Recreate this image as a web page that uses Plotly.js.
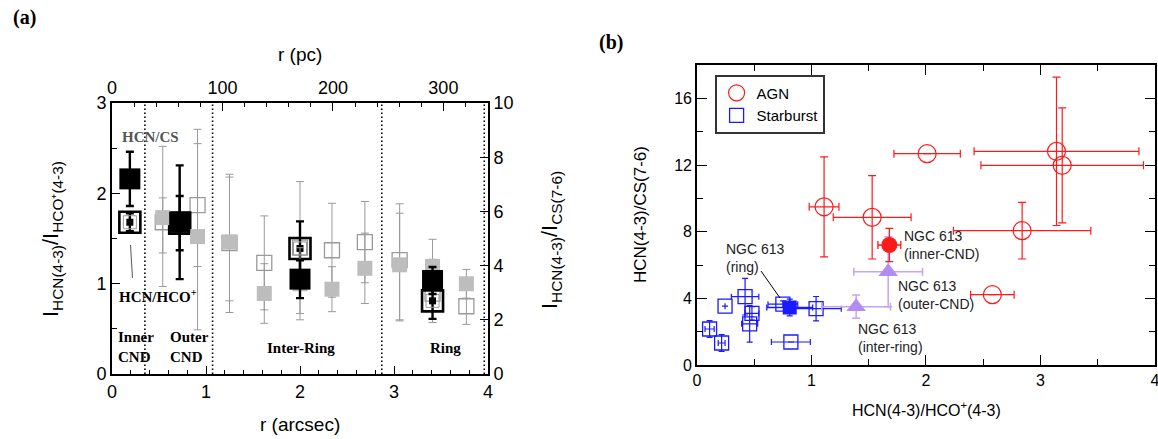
<!DOCTYPE html>
<html>
<head>
<meta charset="utf-8">
<script src="https://cdn.plot.ly/plotly-3.0.1.min.js"></script>
<style>
  html, body { margin: 0; padding: 0; background: #fff; }
  #chart { width: 1158px; height: 439px; }
</style>
</head>
<body>
<div id="chart"></div>
<script>
// ---- NGC 613 radial line ratios (panel a) ----
// Regions: inner CND, outer CND, inter-ring, ring
const regionNames = ['inner-CND', 'outer-CND', 'inter-ring', 'ring'];
const regionR = [0.19, 0.72, 2.00, 3.41];          // arcsec
const regionHCO = [1.68, 1.67, 1.39, 0.81];        // HCN(4-3)/HCO+(4-3)
const regionHCOerr = [0.10, 0.30, 0.30, 0.20];
const regionCS = [7.20, 5.60, 3.50, 3.45];         // HCN(4-3)/CS(7-6)
const regionCSerr = [1.00, 2.10, 0.70, 0.50];

// Finer radial bins
const binR = [0.54, 0.91, 1.25, 1.62, 2.00, 2.34, 2.69, 3.06, 3.41, 3.77];
const binHCO = [1.68, 1.87, 1.45, 1.23, 1.40, 1.37, 1.46, 1.26, 0.89, 0.75];
const binHCOplus = [0.27, 0.68, 0.73, 0.52, 0.73, 0.52, 0.45, 0.52, 0.38, 0.20];
const binHCOminus = [0.34, 0.68, 0.64, 0.52, 0.73, 0.52, 0.45, 0.66, 0.32, 0.20];
const binCS = [5.77, 5.07, 4.87, 2.97, 3.33, 3.13, 3.90, 4.03, 3.97, 3.33];
const binCSplus = [2.63, 3.96, 2.50, 1.10, 1.33, 0.83, 1.30, 2.25, 1.00, 0.53];
const binCSminus = [2.54, 3.44, 2.60, 1.10, 1.33, 0.83, 1.30, 2.07, 1.00, 0.53];

// Region boundaries (arcsec) and pc per arcsec
const boundaries = [0.35, 1.07, 2.87, 3.96];
const pcPerArcsec = 85.1;
const rMax = 4;

// ---- Galaxy sample (panel b) ----
const agnX = [1.11, 1.53, 2.01, 3.14, 3.19, 2.84, 2.58];
const agnXerr = [0.13, 0.34, 0.29, 0.72, 0.71, 0.60, 0.19];
const agnY = [9.49, 8.86, 12.68, 12.82, 11.98, 8.06, 4.22];
const agnYerr = [3.00, 2.50, 0.00, 4.45, 3.45, 1.70, 0.00];

const sbX = [0.42, 0.245, 0.48, 0.46, 0.11, 0.215, 0.75, 1.04, 0.82];
const sbXerr = [0.12, 0.00, 0.06, 0.07, 0.04, 0.03, 0.13, 0.22, 0.17];
const sbY = [4.10, 3.53, 3.10, 2.47, 2.16, 1.32, 3.65, 3.38, 1.38];
const sbYerr = [1.10, 0.00, 0.40, 1.10, 0.50, 0.50, 0.20, 0.73, 0.00];

// ---- page geometry helpers (pixel -> paper) ----
const W = 1158, H = 439;
const px = x => x / W;
const py = y => 1 - y / H;

const sans = 'Liberation Sans, Arial, sans-serif';
const serif = 'Liberation Serif, Times New Roman, serif';
const RED = '#ff1a1a', BLUE = '#1a1aff', LAV = '#b28cf2', LAVBAR = '#c3a5f4';
const GRAYFILL = '#bdbdbd', GRAYLINE = '#9a9a9a';

const pick = (arr, idx) => idx.map(i => arr[i]);

const traces = [
  // gray open squares: HCN/HCO+ per radial bin (left axis)
  {
    x: binR, y: binHCO, xaxis: 'x', yaxis: 'y', type: 'scatter', mode: 'markers',
    showlegend: false, hoverinfo: 'skip',
    marker: { symbol: 'square-open', size: 15, color: GRAYLINE, line: { width: 1.3, color: GRAYLINE } },
    error_y: { type: 'data', symmetric: false, array: binHCOplus, arrayminus: binHCOminus,
               color: GRAYLINE, thickness: 1, width: 4 }
  },
  // black open squares: HCN/HCO+ per region (left axis)
  {
    x: regionR, y: regionHCO, xaxis: 'x', yaxis: 'y', type: 'scatter', mode: 'markers',
    showlegend: false, hoverinfo: 'skip',
    marker: { symbol: 'square-open', size: 21, color: '#000', line: { width: 2.6, color: '#000' } },
    error_y: { type: 'data', array: regionHCOerr, color: '#000', thickness: 2.4, width: 4 }
  },
  {
    x: regionR, y: regionHCO, xaxis: 'x', yaxis: 'y', type: 'scatter', mode: 'markers',
    showlegend: false, hoverinfo: 'skip',
    marker: { symbol: 'square-open', size: 13, color: GRAYLINE, line: { width: 1, color: GRAYLINE } }
  },
  {
    x: regionR, y: regionHCO, xaxis: 'x', yaxis: 'y', type: 'scatter', mode: 'markers',
    showlegend: false, hoverinfo: 'skip',
    marker: { symbol: 'square', size: 7, color: '#000' }
  },
  // empty trace so the parsec axis along the top is laid out
  { x: [], y: [], xaxis: 'x2', yaxis: 'y', type: 'scatter', mode: 'markers',
    showlegend: false, hoverinfo: 'skip' },
  // gray filled squares: HCN/CS per radial bin (right axis)
  {
    x: binR, y: binCS, xaxis: 'x', yaxis: 'y2', type: 'scatter', mode: 'markers',
    showlegend: false, hoverinfo: 'skip',
    marker: { symbol: 'square', size: 15, color: GRAYFILL },
    error_y: { type: 'data', symmetric: false, array: binCSplus, arrayminus: binCSminus,
               color: GRAYLINE, thickness: 1, width: 4 }
  },
  // black filled squares: HCN/CS per region (right axis)
  {
    x: regionR, y: regionCS, xaxis: 'x', yaxis: 'y2', type: 'scatter', mode: 'markers',
    showlegend: false, hoverinfo: 'skip',
    marker: { symbol: 'square', size: 21, color: '#000' },
    error_y: { type: 'data', array: regionCSerr, color: '#000', thickness: 2.4, width: 4 }
  },

  // ---- panel b ----
  {
    name: 'AGN', x: agnX, y: agnY, xaxis: 'x3', yaxis: 'y3', type: 'scatter', mode: 'markers',
    marker: { symbol: 'circle-open', size: 18, color: RED, line: { width: 1.2, color: RED } },
    error_x: { type: 'data', array: agnXerr, color: RED, thickness: 1.2, width: 4 },
    error_y: { type: 'data', array: agnYerr, color: RED, thickness: 1.2, width: 4 }
  },
  {
    name: 'Starburst', x: sbX, y: sbY, xaxis: 'x3', yaxis: 'y3', type: 'scatter', mode: 'markers',
    marker: { symbol: 'square-open', size: 14, color: BLUE, line: { width: 1.3, color: BLUE } },
    error_x: { type: 'data', array: sbXerr, color: BLUE, thickness: 1.2, width: 3 },
    error_y: { type: 'data', array: sbYerr, color: BLUE, thickness: 1.2, width: 3 }
  },
  // NGC 613 outer-CND and inter-ring
  {
    name: 'NGC 613 outer', x: pick(regionHCO, [1, 2]), y: pick(regionCS, [1, 2]),
    xaxis: 'x3', yaxis: 'y3', type: 'scatter', mode: 'markers', showlegend: false,
    marker: { symbol: 'triangle-up', size: 17, color: LAV },
    error_x: { type: 'data', array: pick(regionHCOerr, [1, 2]), color: LAVBAR, thickness: 1.5, width: 4 },
    error_y: { type: 'data', array: pick(regionCSerr, [1, 2]), color: LAVBAR, thickness: 1.5, width: 4 }
  },
  // NGC 613 ring
  {
    name: 'NGC 613 ring', x: pick(regionHCO, [3]), y: pick(regionCS, [3]),
    xaxis: 'x3', yaxis: 'y3', type: 'scatter', mode: 'markers', showlegend: false,
    marker: { symbol: 'square', size: 14, color: BLUE },
    error_x: { type: 'data', array: pick(regionHCOerr, [3]), color: BLUE, thickness: 1.3, width: 3 },
    error_y: { type: 'data', array: pick(regionCSerr, [3]), color: BLUE, thickness: 1.3, width: 3 }
  },
  // NGC 613 inner-CND
  {
    name: 'NGC 613 inner', x: pick(regionHCO, [0]), y: pick(regionCS, [0]),
    xaxis: 'x3', yaxis: 'y3', type: 'scatter', mode: 'markers', showlegend: false,
    marker: { symbol: 'circle', size: 16, color: RED },
    error_x: { type: 'data', array: pick(regionHCOerr, [0]), color: RED, thickness: 1.3, width: 4 },
    error_y: { type: 'data', array: pick(regionCSerr, [0]), color: RED, thickness: 1.3, width: 4 }
  }
];

const frameAxis = {
  showline: true, linecolor: '#000', linewidth: 2, ticks: 'inside', tickcolor: '#000',
  showgrid: false, zeroline: false, fixedrange: true, ticklabeloverflow: 'allow'
};

const shapes = boundaries.map(b => ({
  type: 'line', xref: 'x', yref: 'y', x0: b, x1: b, y0: 0, y1: 3,
  line: { color: '#000', width: 1.6, dash: '1.5px,2.5px' }, layer: 'below'
}));
// pointer lines
shapes.push({ type: 'line', xref: 'paper', yref: 'paper',
  x0: px(130.5), y0: py(245), x1: px(132.5), y1: py(278), line: { color: '#555', width: 1 } });
shapes.push({ type: 'line', xref: 'paper', yref: 'paper',
  x0: px(761), y0: py(271), x1: px(780), y1: py(298), line: { color: '#000', width: 1 } });

const ann = (x, y, text, opts) => Object.assign({
  xref: 'paper', yref: 'paper', x: px(x), y: py(y), text, showarrow: false,
  xanchor: 'center', yanchor: 'middle'
}, opts || {});

const annotations = [
  ann(24, 18, '<b>(a)</b>', { font: { family: serif, size: 20, color: '#000' } }),
  ann(611, 42, '<b>(b)</b>', { font: { family: serif, size: 20, color: '#000' } }),
  // panel a axis titles
  ann(300, 55, 'r (pc)', { font: { family: sans, size: 19, color: '#000' } }),
  ann(300, 424, 'r (arcsec)', { font: { family: sans, size: 19, color: '#000' } }),
  ann(52, 239, 'I<sub>HCN(4-3)</sub>/I<sub>HCO⁺(4-3)</sub>',
      { textangle: -90, font: { family: sans, size: 22, color: '#000' } }),
  ann(551, 240, 'I<sub>HCN(4-3)</sub>/I<sub>CS(7-6)</sub>',
      { textangle: -90, font: { family: sans, size: 22, color: '#000' } }),
  // panel a labels
  ann(150, 137, '<b>HCN/CS</b>', { font: { family: serif, size: 15, color: '#555' } }),
  ann(117, 296, '<b>HCN/HCO<sup>+</sup></b>', { xanchor: 'left', font: { family: serif, size: 15, color: '#000' } }),
  ann(116, 347, '<b>Inner<br>CND</b>', { xanchor: 'left', align: 'left', font: { family: serif, size: 15, color: '#000' } }),
  ann(168, 347, '<b>Outer<br>CND</b>', { xanchor: 'left', align: 'left', font: { family: serif, size: 15, color: '#000' } }),
  ann(301, 348, '<b>Inter-Ring</b>', { font: { family: serif, size: 15, color: '#000' } }),
  ann(445, 348, '<b>Ring</b>', { font: { family: serif, size: 15, color: '#000' } }),
  // panel b axis titles
  ann(926, 409, 'HCN(4-3)/HCO<sup>+</sup>(4-3)', { font: { family: sans, size: 16, color: '#000' } }),
  ann(640, 215, 'HCN(4-3)/CS(7-6)', { textangle: -90, font: { family: sans, size: 17, color: '#000' } }),
  // panel b labels
  ann(902, 245, 'NGC 613<br>(inner-CND)', { xanchor: 'left', align: 'left', font: { family: sans, size: 14, color: '#222' } }),
  ann(896, 295, 'NGC 613<br>(outer-CND)', { xanchor: 'left', align: 'left', font: { family: sans, size: 14, color: '#222' } }),
  ann(856, 338, 'NGC 613<br>(inter-ring)', { xanchor: 'left', align: 'left', font: { family: sans, size: 14, color: '#222' } }),
  ann(724, 258, 'NGC 613<br>(ring)', { xanchor: 'left', align: 'left', font: { family: sans, size: 14, color: '#222' } })
];

const layout = {
  width: W, height: H,
  margin: { l: 0, r: 0, t: 0, b: 0 },
  paper_bgcolor: '#fff', plot_bgcolor: 'rgba(0,0,0,0)',
  showlegend: true,
  legend: {
    x: px(715), y: py(75), xanchor: 'left', yanchor: 'top',
    bgcolor: '#fff', bordercolor: '#333', borderwidth: 1.6,
    font: { family: sans, size: 15, color: '#000' }, tracegroupgap: 0
  },
  xaxis: Object.assign({}, frameAxis, {
    domain: [px(112), px(488)], range: [0, rMax], anchor: 'y',
    dtick: 1, ticklen: 8, minor: { dtick: 0.2, ticklen: 4, ticks: 'inside', tickcolor: '#000' },
    tickfont: { family: sans, size: 18, color: '#000' }
  }),
  xaxis2: Object.assign({}, frameAxis, {
    overlaying: 'x', side: 'top', anchor: 'y', range: [0, rMax * pcPerArcsec],
    dtick: 100, ticklen: 8, minor: { dtick: 20, ticklen: 4, ticks: 'inside', tickcolor: '#000' },
    tickfont: { family: sans, size: 18, color: '#000' }
  }),
  yaxis: Object.assign({}, frameAxis, {
    domain: [py(374), py(103)], range: [0, 3], anchor: 'x',
    dtick: 1, ticklen: 8, minor: { dtick: 0.5, ticklen: 5, ticks: 'inside', tickcolor: '#000' },
    tickfont: { family: sans, size: 18, color: '#000' }
  }),
  yaxis2: Object.assign({}, frameAxis, {
    overlaying: 'y', side: 'right', anchor: 'x', range: [0, 10],
    dtick: 2, ticklen: 8,
    tickfont: { family: sans, size: 18, color: '#000' }
  }),
  xaxis3: Object.assign({}, frameAxis, {
    domain: [px(697), px(1155)], range: [0, 4.0005], anchor: 'y3', mirror: 'allticks', linewidth: 1.8,
    dtick: 1, ticklen: 10, minor: { dtick: 0.5, ticklen: 6, ticks: 'inside', tickcolor: '#000' },
    tickfont: { family: sans, size: 16, color: '#000' }
  }),
  yaxis3: Object.assign({}, frameAxis, {
    domain: [py(365), py(65)], range: [0, 18], anchor: 'x3', mirror: 'allticks', linewidth: 1.8,
    dtick: 4, ticklen: 10, minor: { dtick: 2, ticklen: 6, ticks: 'inside', tickcolor: '#000' },
    tickfont: { family: sans, size: 16, color: '#000' }
  }),
  shapes, annotations
};

Plotly.newPlot('chart', traces, layout, { staticPlot: true, displayModeBar: false });
</script>
</body>
</html>
